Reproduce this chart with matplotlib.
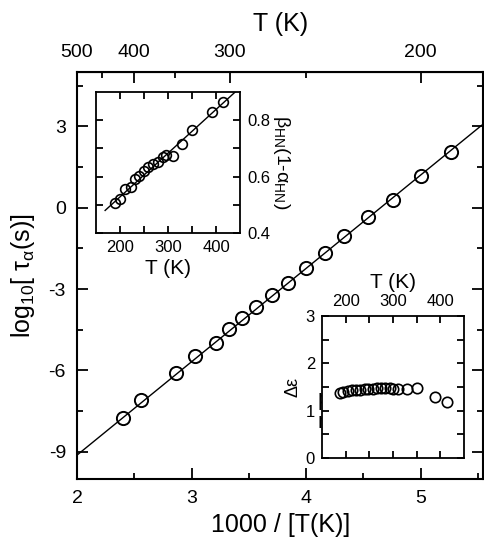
import matplotlib
matplotlib.use("Agg")
import matplotlib.pyplot as plt
import numpy as np

plt.rcParams['font.family'] = ['Liberation Sans', 'DejaVu Sans']
plt.rcParams['mathtext.default'] = 'regular'
plt.rcParams['axes.unicode_minus'] = False

# ---- main data: log10 tau_alpha vs 1000/T ----
inv_T = [2.404, 2.555, 2.863, 3.029, 3.218, 3.331, 3.444, 3.561, 3.706, 3.843,
         4.002, 4.162, 4.336, 4.540, 4.760, 5.005, 5.267]
log_tau = [-7.76, -7.09, -6.11, -5.47, -4.99, -4.46, -4.08, -3.65, -3.22, -2.77,
           -2.24, -1.66, -1.05, -0.36, 0.30, 1.17, 2.06]
fit_x = [2.0, 5.55]
fit_y = [-9.12, 3.09]

# ---- inset 1: beta_HN(1-alpha_HN) vs T ----
T1 = [190, 201, 210, 222, 231, 240, 249, 259, 268, 280, 289, 296, 310, 330, 351, 391, 414]
beta = [0.505, 0.52, 0.555, 0.564, 0.59, 0.602, 0.619, 0.634, 0.644, 0.652,
        0.67, 0.676, 0.673, 0.714, 0.764, 0.829, 0.866]
fit1_T = [169, 440]
fit1_b = [0.48, 0.90]

# ---- inset 2: delta epsilon vs T ----
T2 = [187, 195, 204, 213, 222, 231, 240, 248, 258, 266, 275, 284, 293, 301, 310,
      329, 350, 389, 414]
deps = [1.37, 1.39, 1.42, 1.43, 1.44, 1.44, 1.45, 1.46, 1.46, 1.47, 1.47, 1.47,
        1.47, 1.46, 1.46, 1.46, 1.48, 1.28, 1.18]

W, H = 484, 541
fig = plt.figure(figsize=(W / 100, H / 100), dpi=100)

def rect(l, r, t, b):
    return [l / W, (H - b) / H, (r - l) / W, (b - t) / H]

def style(ax, major_len=8, minor_len=4.5, lw=1.5):
    for s in ax.spines.values():
        s.set_linewidth(lw)
    ax.tick_params(which='both', direction='in', top=True, right=True, width=1.3)
    ax.tick_params(which='major', length=major_len)
    ax.tick_params(which='minor', length=minor_len)

# main axes
ax = fig.add_axes(rect(77, 483.5, 72, 479))
ax.plot(fit_x, fit_y, color='black', lw=1.0)
ax.plot(inv_T, log_tau, 'o', ms=9.5, mfc='none', mec='black', mew=1.4)
ax.set_xlim(2, 5.55)
ax.set_ylim(-10, 5)
ax.set_xticks([2, 3, 4, 5])
ax.set_xticks([2.5, 3.5, 4.5, 5.5], minor=True)
ax.set_yticks([-9, -6, -3, 0, 3])
ax.set_yticks([-7.5, -4.5, -1.5, 1.5, 4.5], minor=True)
style(ax)
ax.tick_params(labelsize=14, pad=8)
ax.set_xlabel('1000 / [T(K)]', fontsize=18, labelpad=4)
ax.set_ylabel('log$_{10}$[ τ$_α$(s)]', fontsize=18, labelpad=8)

sec = ax.secondary_xaxis('top', functions=(lambda x: 1000 / x, lambda t: 1000 / t))
sec.set_xticks([500, 400, 300, 200])
sec.set_xticks([450, 350, 250], minor=True)
sec.tick_params(which='both', direction='in', width=1.3, labelsize=14, pad=8)
sec.tick_params(which='major', length=8)
sec.tick_params(which='minor', length=4.5)
sec.set_xlabel('T (K)', fontsize=18, labelpad=9)
ax.tick_params(axis='x', which='both', top=False)

ax.text(318, 108, 'pentachloro-\nnitrobenzene', transform=None, fontsize=16,
        va='bottom', ha='left', linespacing=1.15)

# inset 1
a1 = fig.add_axes(rect(96, 240, 92, 233))
a1.plot(fit1_T, fit1_b, color='black', lw=1.0)
a1.plot(T1, beta, 'o', ms=7, mfc='none', mec='black', mew=1.2)
a1.set_xlim(150, 450)
a1.set_ylim(0.4, 0.9)
a1.set_xticks([200, 300, 400])
a1.set_xticks([250, 350], minor=True)
a1.set_yticks([0.4, 0.6, 0.8])
a1.set_yticks([0.5, 0.7], minor=True)
style(a1, major_len=5, minor_len=5, lw=1.3)
a1.tick_params(labelsize=12, pad=5)
a1.tick_params(axis='y', labelleft=False, labelright=True)
a1.yaxis.set_label_position('right')
a1.set_ylabel('β$_{HN}$(1-α$_{HN}$)', fontsize=14, rotation=270, labelpad=16)
a1.set_xlabel('T (K)', fontsize=15, labelpad=3)
a1.yaxis.set_major_formatter(matplotlib.ticker.FormatStrFormatter('%.1f'))

# inset 2
a2 = fig.add_axes(rect(322, 464, 316, 458))
a2.plot(T2, deps, 'o', ms=7.5, mfc='none', mec='black', mew=1.2)
a2.set_xlim(150, 450)
a2.set_ylim(0, 3)
a2.set_xticks([200, 300, 400])
a2.set_xticks([250, 350], minor=True)
a2.set_yticks([0, 1, 2, 3])
a2.set_yticks([0.5, 1.5, 2.5], minor=True)
style(a2, major_len=5, minor_len=5, lw=1.3)
a2.tick_params(labelsize=12, pad=5)
a2.tick_params(axis='x', labelbottom=False, labeltop=True)
a2.xaxis.set_label_position('top')
a2.set_xlabel('T (K)', fontsize=15, labelpad=4)
a2.set_ylabel('Δε', fontsize=13, labelpad=3)

fig.savefig('out.png', dpi=100)
